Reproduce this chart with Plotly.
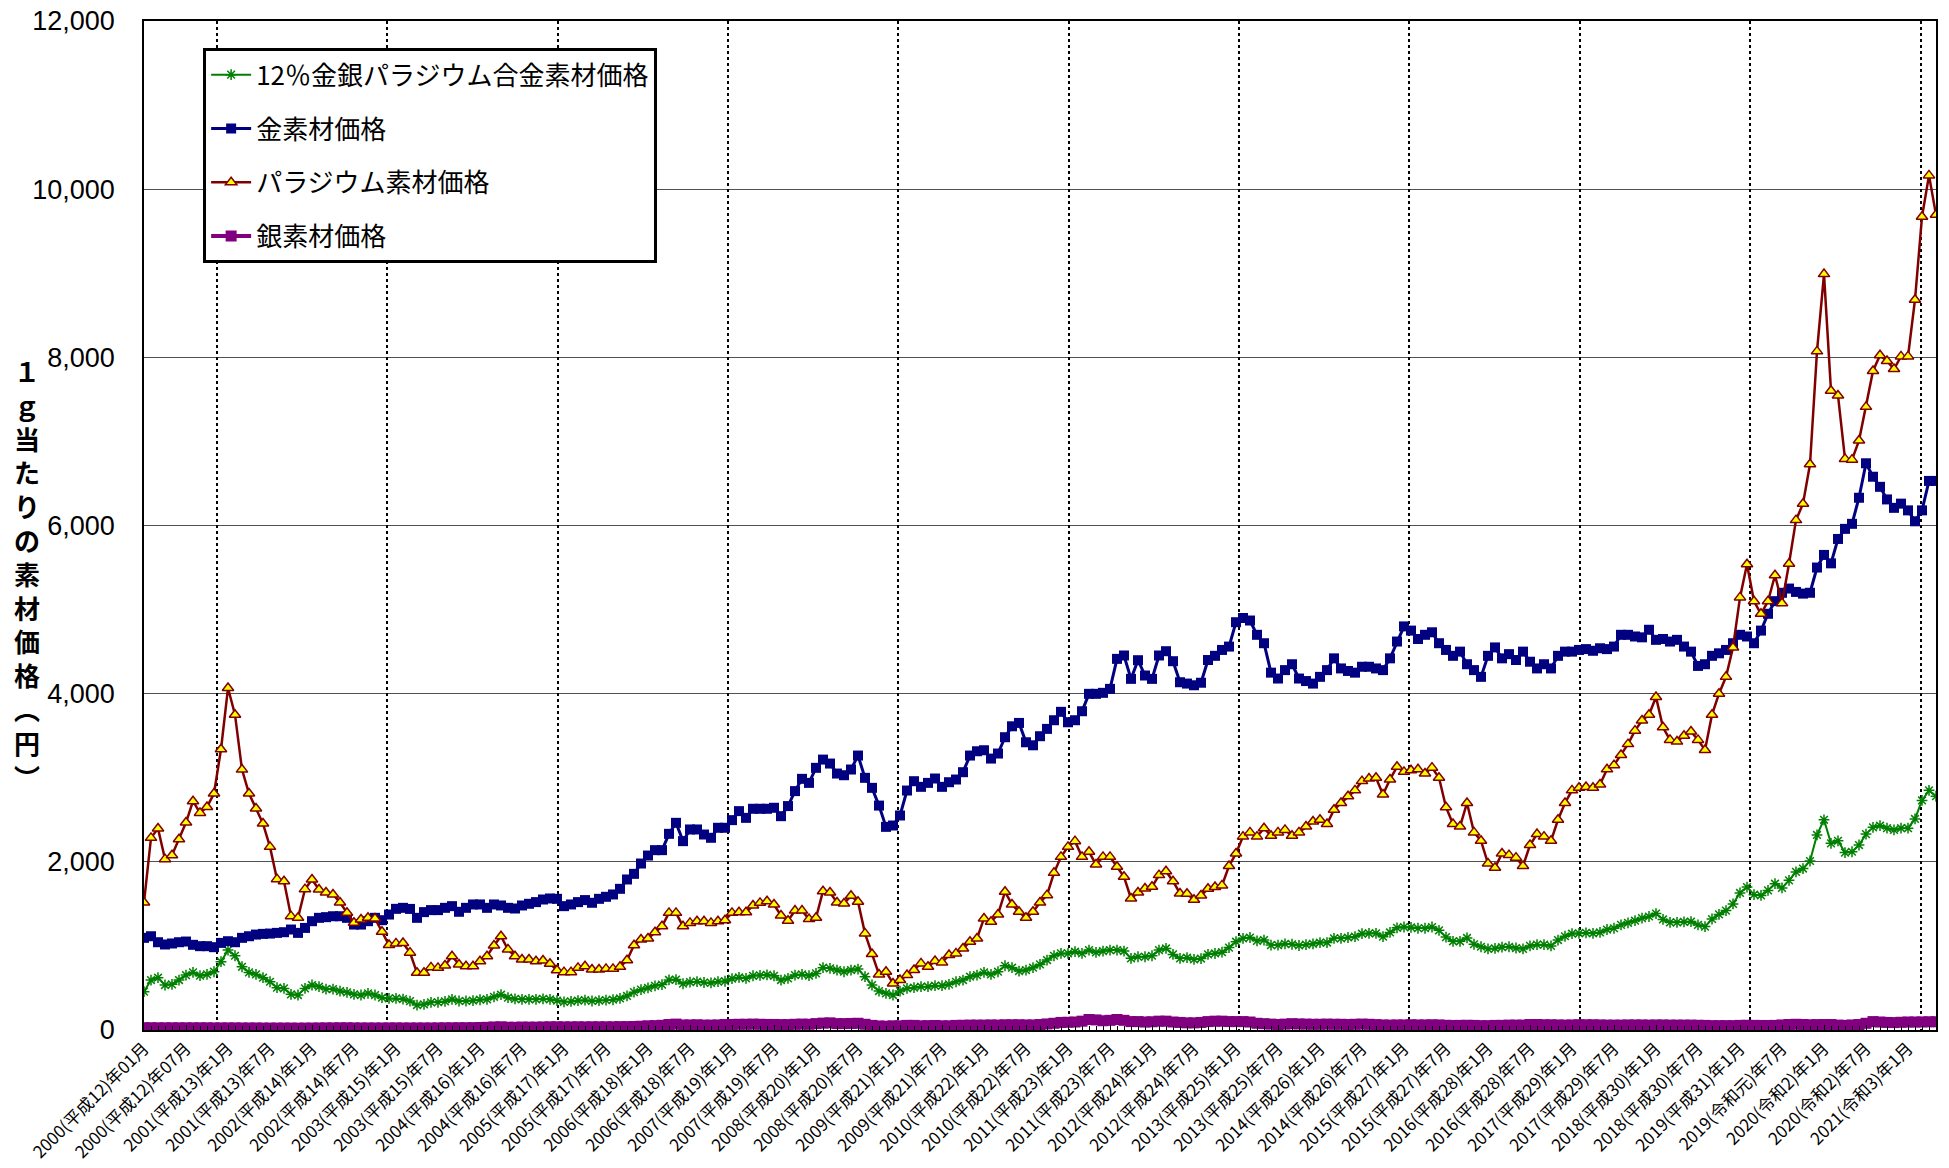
import plotly.graph_objects as go

# ---- tick labels (every 6 months) ----
tick_labels = [
    "2000(平成12)年01月", "2000(平成12)年07月",
    "2001(平成13)年1月", "2001(平成13)年7月",
    "2002(平成14)年1月", "2002(平成14)年7月",
    "2003(平成15)年1月", "2003(平成15)年7月",
    "2004(平成16)年1月", "2004(平成16)年7月",
    "2005(平成17)年1月", "2005(平成17)年7月",
    "2006(平成18)年1月", "2006(平成18)年7月",
    "2007(平成19)年1月", "2007(平成19)年7月",
    "2008(平成20)年1月", "2008(平成20)年7月",
    "2009(平成21)年1月", "2009(平成21)年7月",
    "2010(平成22)年1月", "2010(平成22)年7月",
    "2011(平成23)年1月", "2011(平成23)年7月",
    "2012(平成24)年1月", "2012(平成24)年7月",
    "2013(平成25)年1月", "2013(平成25)年7月",
    "2014(平成26)年1月", "2014(平成26)年7月",
    "2015(平成27)年1月", "2015(平成27)年7月",
    "2016(平成28)年1月", "2016(平成28)年7月",
    "2017(平成29)年1月", "2017(平成29)年7月",
    "2018(平成30)年1月", "2018(平成30)年7月",
    "2019(平成31)年1月", "2019(令和元)年7月",
    "2020(令和2)年1月", "2020(令和2)年7月",
    "2021(令和3)年1月",
]

# ---- monthly series (yen per gram), 2000/01 onward ----
alloy_12 = [
    456, 594, 622, 535, 543, 594, 653, 685, 646, 661, 693, 812,
    950, 883, 752, 685, 661, 622, 574, 503, 495, 424, 416, 495,
    535, 515, 487, 487, 463, 448, 424, 416, 436, 416, 384, 376,
    376, 368, 344, 297, 305, 329, 330, 340, 365, 345, 345, 350,
    360, 365, 395, 420, 385, 370, 365, 365, 365, 370, 365, 350,
    335, 340, 350, 355, 345, 350, 355, 360, 375, 405, 450, 480,
    500, 525, 540, 595, 600, 550, 570, 575, 565, 560, 575, 580,
    610, 625, 615, 645, 650, 655, 645, 594, 614, 653, 661, 646,
    673, 741, 733, 713, 693, 713, 725, 634, 535, 463, 436, 416,
    463, 495, 503, 515, 515, 527, 527, 543, 574, 594, 634, 653,
    685, 661, 693, 764, 741, 701, 713, 741, 780, 832, 883, 911,
    911, 931, 911, 950, 923, 939, 950, 950, 939, 852, 871, 871,
    883, 950, 970, 899, 852, 860, 840, 850, 900, 910, 925, 980,
    1050, 1090, 1100, 1060, 1070, 1010, 1010, 1025, 1020, 1005, 1015, 1025,
    1040, 1040, 1090, 1090, 1100, 1110, 1145, 1150, 1150, 1110, 1160, 1215,
    1225, 1220, 1210, 1210, 1225, 1185, 1105, 1055, 1055, 1095, 1020, 990,
    965, 970, 985, 990, 975, 965, 1000, 1015, 1015, 1000, 1070, 1115,
    1145, 1150, 1155, 1150, 1160, 1195, 1210, 1250, 1275, 1300, 1330, 1350,
    1385, 1315, 1280, 1280, 1285, 1290, 1250, 1230, 1320, 1375, 1420, 1500,
    1630, 1700, 1610, 1600, 1660, 1740, 1690, 1780, 1880, 1920, 2010, 2320,
    2500, 2220, 2250, 2110, 2120, 2200, 2330, 2410, 2430, 2400, 2380, 2400,
    2400, 2510, 2730, 2850, 2780,
]

gold = [
    1096, 1115, 1044, 1017, 1029, 1044, 1052, 1013, 997, 997, 985, 1036,
    1056, 1044, 1096, 1115, 1135, 1143, 1147, 1155, 1163, 1195, 1155, 1214,
    1294, 1334, 1342, 1353, 1353, 1334, 1254, 1254, 1294, 1334, 1306, 1373,
    1441, 1453, 1440, 1334, 1402, 1426, 1426, 1453, 1473, 1406, 1453, 1493,
    1493, 1453, 1493, 1481, 1453, 1445, 1481, 1501, 1521, 1552, 1564, 1560,
    1473, 1493, 1521, 1545, 1513, 1560, 1584, 1612, 1679, 1790, 1857, 1980,
    2075, 2139, 2139, 2333, 2464, 2246, 2385, 2385, 2325, 2286, 2405, 2405,
    2496, 2603, 2523, 2631, 2631, 2631, 2643, 2543, 2663, 2841, 2987, 2939,
    3118, 3216, 3169, 3050, 3030, 3098, 3264, 2999, 2880, 2669, 2416, 2432,
    2551, 2848, 2959, 2892, 2939, 2991, 2892, 2947, 2979, 3066, 3264, 3315,
    3327, 3228, 3288, 3482, 3612, 3652, 3422, 3386, 3494, 3581, 3684, 3784,
    3660, 3684, 3791, 3998, 3998, 4010, 4057, 4414, 4454, 4176, 4398, 4216,
    4176, 4454, 4505, 4386, 4136, 4120, 4100, 4130, 4400, 4450, 4520, 4560,
    4850, 4900, 4870, 4700, 4600, 4250, 4180, 4280, 4350, 4180, 4150, 4120,
    4200, 4280, 4420, 4300, 4270, 4250, 4320, 4320, 4300, 4280, 4420, 4620,
    4800, 4750, 4650, 4700, 4730, 4600, 4520, 4450, 4500, 4350, 4280, 4200,
    4450, 4550, 4420, 4470, 4400, 4500, 4380, 4300, 4350, 4300, 4450, 4500,
    4500, 4520, 4530, 4510, 4540, 4530, 4560, 4700, 4700, 4680, 4670, 4760,
    4640, 4650, 4620, 4640, 4560, 4500, 4330, 4350, 4450, 4480, 4520, 4600,
    4700, 4680, 4600, 4750, 4950, 5100, 5200, 5250, 5210, 5190, 5200, 5500,
    5650, 5550, 5840, 5960, 6020, 6330, 6740, 6580, 6460, 6310, 6210, 6260,
    6180, 6050, 6180, 6530, 6530,
]

palladium = [
    1517, 2285, 2396, 2032, 2079, 2269, 2467, 2721, 2582, 2653, 2812, 3339,
    4067, 3750, 3097, 2812, 2634, 2455, 2178, 1794, 1770, 1354, 1335, 1675,
    1790, 1671, 1636, 1612, 1517, 1394, 1275, 1315, 1335, 1327, 1168, 1010,
    1030, 1035, 920, 680, 680, 745, 739, 767, 878, 779, 759, 759,
    818, 878, 1004, 1115, 957, 878, 838, 838, 818, 826, 787, 711,
    688, 688, 739, 759, 719, 719, 727, 727, 751, 830, 1008, 1076,
    1088, 1163, 1234, 1393, 1393, 1234, 1274, 1294, 1294, 1274, 1294, 1306,
    1393, 1401, 1401, 1480, 1512, 1532, 1492, 1361, 1300, 1420, 1420, 1319,
    1335, 1651, 1636, 1517, 1505, 1596, 1525, 1149, 903, 661, 693, 554,
    594, 653, 713, 792, 752, 820, 804, 891, 911, 970, 1050, 1089,
    1327, 1287, 1374, 1644, 1493, 1406, 1335, 1406, 1517, 1604, 1869, 2059,
    2178, 2246, 2059, 2119, 1968, 2059, 2059, 1941, 1822, 1564, 1636, 1683,
    1703, 1842, 1889, 1770, 1624, 1620, 1550, 1600, 1680, 1700, 1720, 1950,
    2100, 2300, 2350, 2300, 2400, 2310, 2350, 2380, 2310, 2350, 2420, 2480,
    2500, 2450, 2620, 2700, 2780, 2850, 2960, 2990, 3000, 2800, 2980, 3130,
    3070, 3090, 3100, 3050, 3120, 3000, 2650, 2450, 2420, 2700, 2350, 2250,
    1980, 1930, 2100, 2080, 2050, 1950, 2200, 2330, 2300, 2250, 2500, 2700,
    2850, 2880, 2890, 2880, 2920, 3100, 3150, 3270, 3400, 3560, 3680, 3750,
    3960, 3600, 3450, 3430, 3500, 3550, 3450, 3330, 3750, 4000, 4200, 4550,
    5145, 5540, 5099, 4950, 5099, 5408, 5076, 5545, 6064, 6259, 6728, 8071,
    8990, 7602, 7547, 6792, 6783, 7010, 7411, 7838, 8025, 7957, 7861, 8011,
    8011, 8685, 9672, 10164, 9695,
]

silver = [
    27, 27, 26, 26, 26, 26, 26, 26, 26, 26, 25, 25,
    25, 25, 24, 24, 24, 23, 23, 23, 23, 23, 22, 23,
    23, 24, 25, 25, 26, 26, 25, 24, 24, 24, 24, 25,
    25, 24, 24, 24, 24, 24, 25, 26, 26, 27, 27, 28,
    30, 32, 36, 38, 33, 32, 35, 34, 34, 36, 38, 38,
    37, 37, 38, 37, 38, 38, 38, 38, 40, 40, 42, 45,
    50, 52, 56, 65, 70, 60, 60, 62, 58, 58, 60, 65,
    66, 68, 68, 70, 68, 66, 66, 64, 64, 68, 70, 68,
    76, 82, 85, 76, 76, 78, 80, 68, 55, 48, 45, 50,
    50, 55, 55, 50, 52, 54, 50, 50, 55, 56, 58, 58,
    58, 60, 58, 62, 62, 62, 60, 60, 65, 72, 80, 90,
    92, 95, 105, 125, 120, 110, 115, 125, 115, 100, 100, 95,
    98, 105, 105, 95, 90, 85, 85, 90, 100, 105, 105, 100,
    100, 100, 95, 80, 75, 70, 65, 70, 75, 72, 70, 68,
    68, 70, 68, 68, 65, 68, 70, 68, 64, 60, 58, 60,
    60, 62, 60, 60, 62, 60, 56, 54, 55, 56, 55, 52,
    52, 55, 55, 58, 58, 58, 65, 65, 62, 62, 60, 58,
    60, 62, 62, 62, 60, 58, 58, 58, 60, 60, 60, 58,
    60, 60, 58, 58, 58, 58, 56, 55, 52, 52, 52, 52,
    55, 56, 55, 54, 54, 55, 60, 65, 68, 65, 62, 64,
    65, 65, 58, 55, 60, 65, 80, 100, 95, 90, 88, 92,
    95, 95, 96, 98, 98,
]

month_index = list(range(max(len(alloy_12), len(gold), len(palladium), len(silver))))
last = month_index[-1]
tick_positions = month_index[::6][:len(tick_labels)]

JP = "Noto Sans CJK JP"

fig = go.Figure()

fig.add_trace(go.Scatter(
    x=month_index[:len(alloy_12)], y=alloy_12, name="12％金銀パラジウム合金素材価格",
    mode="lines+markers", legendgroup="a",
    line=dict(color="#008000", width=2),
    marker=dict(symbol="asterisk-open", size=9, color="#008000",
                line=dict(color="#008000", width=1.5)),
))
fig.add_trace(go.Scatter(
    x=month_index[:len(gold)], y=gold, name="金素材価格",
    mode="lines+markers", legendgroup="b",
    line=dict(color="#000080", width=3),
    marker=dict(symbol="square", size=10, color="#000080"),
))
fig.add_trace(go.Scatter(
    x=month_index[:len(palladium)], y=palladium, name="パラジウム素材価格",
    mode="lines+markers", legendgroup="c",
    line=dict(color="#800000", width=2.5),
    marker=dict(symbol="triangle-up", size=10, color="#FFFF00",
                line=dict(color="#800000", width=1.5)),
))
fig.add_trace(go.Scatter(
    x=month_index[:len(silver)], y=silver, name="銀素材価格",
    mode="lines+markers", legendgroup="d",
    line=dict(color="#800080", width=4),
    marker=dict(symbol="square", size=11, color="#800080"),
))
# helper trace so the dotted-grid overlay axis is rendered
fig.add_trace(go.Scatter(x=[None], y=[None], xaxis="x2", showlegend=False,
                         hoverinfo="skip", mode="lines"))

# dotted vertical grid: every 24 months, offset as in the original
grid_start = 10.4
grid_step = 24.34

fig.update_layout(
    width=1949, height=1168,
    margin=dict(l=144, r=13, t=21, b=138),
    paper_bgcolor="white", plot_bgcolor="white",
    font=dict(family=JP, color="black"),
    showlegend=True,
    legend=dict(
        x=0.033, y=0.973, xanchor="left", yanchor="top",
        bgcolor="white", bordercolor="black", borderwidth=3,
        font=dict(family=JP, size=26, color="black"),
        tracegroupgap=17, itemwidth=40,
    ),
    xaxis=dict(
        range=[0, last], tickmode="array", tickvals=tick_positions, ticktext=tick_labels,
        tickangle=-45, tickfont=dict(family=JP, size=17, color="black"),
        showgrid=False, zeroline=False, automargin=False,
        showline=True, linecolor="black", linewidth=1.5, mirror=True,
        ticks="inside", ticklen=5, tickcolor="black",
        minor=dict(ticks="inside", ticklen=4, dtick=1, tick0=0, tickcolor="black", showgrid=False),
    ),
    xaxis2=dict(
        overlaying="x", side="top", automargin=False,
        range=[(0 - grid_start) / grid_step, (last - grid_start) / grid_step],
        tick0=0, dtick=1, showticklabels=False, ticks="",
        showgrid=True, griddash="dot", gridcolor="black", gridwidth=1.5,
        showline=False, zeroline=False,
    ),
    yaxis=dict(
        range=[0, 12000], dtick=2000, tickformat=",d", automargin=False,
        tickfont=dict(family="Liberation Sans", size=27, color="black"),
        showgrid=True, gridcolor="#505050", gridwidth=1,
        zeroline=False, showline=True, linecolor="black", linewidth=1.5, mirror=True,
        ticks="", ticklabelstandoff=22,
    ),
)

fig.add_annotation(
    xref="paper", yref="paper", x=-0.0655, y=0.452,
    xanchor="center", yanchor="middle", showarrow=False,
    text="<br>".join(list("１ｇ当たりの素材価格︵円︶")),
    font=dict(family=JP, size=26, color="black", weight="bold"),
    align="center",
)

fig.write_html("out.html", config={"displayModeBar": False},
               post_script="document.body.style.margin='0';")
